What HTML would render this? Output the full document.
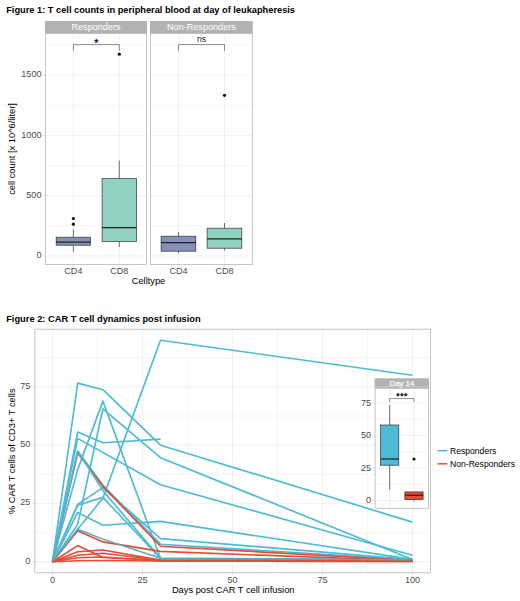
<!DOCTYPE html>
<html><head><meta charset="utf-8"><title>Figures</title>
<style>
html,body{margin:0;padding:0;background:#fff;}
body{width:520px;height:601px;overflow:hidden;font-family:"Liberation Sans",sans-serif;}
svg{display:block;font-family:"Liberation Sans",sans-serif;}
.t{font-weight:bold;font-size:9.26px;fill:#000;}
.ax{font-size:9.1px;fill:#4D4D4D;}
.at{font-size:9.3px;fill:#000;}
.st{font-size:9.1px;fill:#fff;}
.lg{font-size:8.6px;fill:#000;}
.gmaj{stroke:#E2E2E2;stroke-width:0.5;}
.gmin{stroke:#E6E6E6;stroke-width:0.42;}
.bd{fill:none;stroke:#B8B8B8;stroke-width:0.8;}
.tk{stroke:#BDBDBD;stroke-width:0.5;}
.bx{stroke:#333;stroke-width:0.7;}
.md{stroke:#222;stroke-width:1.25;}
</style></head><body>
<svg width="520" height="601" viewBox="0 0 520 601">
<rect width="520" height="601" fill="#fff"/>

<text class="t" x="6.2" y="13.2" textLength="288.8" lengthAdjust="spacingAndGlyphs">Figure 1: T cell counts in peripheral blood at day of leukapheresis</text>
<rect x="45.0" y="21" width="102.0" height="12.5" fill="#B3B3B3"/>
<text class="st" x="96.0" y="30.4" text-anchor="middle">Responders</text>
<line class="gmin" x1="45.5" x2="146.5" y1="225.8" y2="225.8"/>
<line class="gmin" x1="45.5" x2="146.5" y1="165.5" y2="165.5"/>
<line class="gmin" x1="45.5" x2="146.5" y1="105.3" y2="105.3"/>
<line class="gmin" x1="45.5" x2="146.5" y1="45.0" y2="45.0"/>
<line class="gmaj" x1="45.5" x2="146.5" y1="255.9" y2="255.9"/>
<line class="gmaj" x1="45.5" x2="146.5" y1="195.7" y2="195.7"/>
<line class="gmaj" x1="45.5" x2="146.5" y1="135.4" y2="135.4"/>
<line class="gmaj" x1="45.5" x2="146.5" y1="75.2" y2="75.2"/>
<line class="gmaj" x1="73.4" x2="73.4" y1="33.5" y2="264.6"/>
<line class="tk" x1="73.4" x2="73.4" y1="264.6" y2="267.1"/>
<line class="gmaj" x1="119.3" x2="119.3" y1="33.5" y2="264.6"/>
<line class="tk" x1="119.3" x2="119.3" y1="264.6" y2="267.1"/>
<text class="ax" x="73.4" y="274.0" text-anchor="middle">CD4</text>
<text class="ax" x="119.3" y="274.0" text-anchor="middle">CD8</text>
<line class="bx" x1="73.4" x2="73.4" y1="229.5" y2="237.2"/>
<line class="bx" x1="73.4" x2="73.4" y1="245.2" y2="251.8"/>
<rect class="bx" x="56.2" y="237.2" width="34.4" height="8.0" fill="#8491B4"/>
<line class="md" x1="56.2" x2="90.6" y1="242.0" y2="242.0"/>
<line class="bx" x1="119.3" x2="119.3" y1="160.5" y2="178.5"/>
<line class="bx" x1="119.3" x2="119.3" y1="241.5" y2="247.0"/>
<rect class="bx" x="102.1" y="178.5" width="34.4" height="63.0" fill="#91D1C2"/>
<line class="md" x1="102.1" x2="136.5" y1="227.5" y2="227.5"/>
<circle cx="73.4" cy="218.5" r="1.6" fill="#111"/>
<circle cx="73.4" cy="224.2" r="1.6" fill="#111"/>
<circle cx="119.3" cy="54.2" r="1.6" fill="#111"/>
<path d="M73.4 50.8V44.6H119.3V50.8" fill="none" stroke="#444" stroke-width="0.6"/>
<text x="96.3" y="47.3" text-anchor="middle" font-size="10.5" fill="#111" stroke="#111" stroke-width="0.3">*</text>
<rect class="bd" x="45.5" y="33.5" width="101.0" height="231.1"/>
<rect x="150.0" y="21" width="102.8" height="12.5" fill="#B3B3B3"/>
<text class="st" x="201.4" y="30.4" text-anchor="middle">Non-Responders</text>
<line class="gmin" x1="150.5" x2="252.3" y1="225.8" y2="225.8"/>
<line class="gmin" x1="150.5" x2="252.3" y1="165.5" y2="165.5"/>
<line class="gmin" x1="150.5" x2="252.3" y1="105.3" y2="105.3"/>
<line class="gmin" x1="150.5" x2="252.3" y1="45.0" y2="45.0"/>
<line class="gmaj" x1="150.5" x2="252.3" y1="255.9" y2="255.9"/>
<line class="gmaj" x1="150.5" x2="252.3" y1="195.7" y2="195.7"/>
<line class="gmaj" x1="150.5" x2="252.3" y1="135.4" y2="135.4"/>
<line class="gmaj" x1="150.5" x2="252.3" y1="75.2" y2="75.2"/>
<line class="gmaj" x1="178.5" x2="178.5" y1="33.5" y2="264.6"/>
<line class="tk" x1="178.5" x2="178.5" y1="264.6" y2="267.1"/>
<line class="gmaj" x1="224.5" x2="224.5" y1="33.5" y2="264.6"/>
<line class="tk" x1="224.5" x2="224.5" y1="264.6" y2="267.1"/>
<text class="ax" x="178.5" y="274.0" text-anchor="middle">CD4</text>
<text class="ax" x="224.5" y="274.0" text-anchor="middle">CD8</text>
<line class="bx" x1="178.5" x2="178.5" y1="232.0" y2="236.2"/>
<line class="bx" x1="178.5" x2="178.5" y1="251.2" y2="253.2"/>
<rect class="bx" x="161.1" y="236.2" width="34.7" height="15.0" fill="#8491B4"/>
<line class="md" x1="161.1" x2="195.9" y1="242.5" y2="242.5"/>
<line class="bx" x1="224.5" x2="224.5" y1="223.0" y2="228.2"/>
<line class="bx" x1="224.5" x2="224.5" y1="248.2" y2="250.5"/>
<rect class="bx" x="207.1" y="228.2" width="34.7" height="20.0" fill="#91D1C2"/>
<line class="md" x1="207.1" x2="241.9" y1="238.8" y2="238.8"/>
<circle cx="224.5" cy="95.3" r="1.6" fill="#111"/>
<path d="M178.5 50.8V44.6H224.5V50.8" fill="none" stroke="#444" stroke-width="0.6"/>
<text x="201.5" y="42" text-anchor="middle" font-size="8.6" fill="#111">ns</text>
<rect class="bd" x="150.5" y="33.5" width="101.8" height="231.1"/>
<text class="ax" x="41.5" y="258.1" text-anchor="end">0</text>
<line class="tk" x1="42.8" x2="45.5" y1="255.9" y2="255.9"/>
<text class="ax" x="41.5" y="197.8" text-anchor="end">500</text>
<line class="tk" x1="42.8" x2="45.5" y1="195.7" y2="195.7"/>
<text class="ax" x="41.5" y="137.6" text-anchor="end">1000</text>
<line class="tk" x1="42.8" x2="45.5" y1="135.4" y2="135.4"/>
<text class="ax" x="41.5" y="77.4" text-anchor="end">1500</text>
<line class="tk" x1="42.8" x2="45.5" y1="75.2" y2="75.2"/>
<text class="at" x="148.5" y="284" text-anchor="middle">Celltype</text>
<text class="at" transform="translate(14.6,149) rotate(-90)" text-anchor="middle">cell count [x 10^6/liter]</text>
<text class="t" x="6.2" y="322" textLength="194.5" lengthAdjust="spacingAndGlyphs">Figure 2: CAR T cell dynamics post infusion</text>
<line class="gmin" x1="34.8" x2="430.5" y1="532.6" y2="532.6"/>
<line class="gmin" x1="97.5" x2="97.5" y1="329.2" y2="572.8"/>
<line class="gmin" x1="34.8" x2="430.5" y1="474.3" y2="474.3"/>
<line class="gmin" x1="187.5" x2="187.5" y1="329.2" y2="572.8"/>
<line class="gmin" x1="34.8" x2="430.5" y1="416.0" y2="416.0"/>
<line class="gmin" x1="277.5" x2="277.5" y1="329.2" y2="572.8"/>
<line class="gmin" x1="34.8" x2="430.5" y1="357.7" y2="357.7"/>
<line class="gmin" x1="367.5" x2="367.5" y1="329.2" y2="572.8"/>
<line class="gmaj" x1="34.8" x2="430.5" y1="561.7" y2="561.7"/>
<text class="ax" x="30.3" y="563.7" text-anchor="end">0</text>
<line class="tk" x1="32.1" x2="34.8" y1="561.7" y2="561.7"/>
<line class="gmaj" x1="34.8" x2="430.5" y1="503.4" y2="503.4"/>
<text class="ax" x="30.3" y="505.4" text-anchor="end">25</text>
<line class="tk" x1="32.1" x2="34.8" y1="503.4" y2="503.4"/>
<line class="gmaj" x1="34.8" x2="430.5" y1="445.2" y2="445.2"/>
<text class="ax" x="30.3" y="447.2" text-anchor="end">50</text>
<line class="tk" x1="32.1" x2="34.8" y1="445.2" y2="445.2"/>
<line class="gmaj" x1="34.8" x2="430.5" y1="386.9" y2="386.9"/>
<text class="ax" x="30.3" y="388.9" text-anchor="end">75</text>
<line class="tk" x1="32.1" x2="34.8" y1="386.9" y2="386.9"/>
<line class="gmaj" x1="52.5" x2="52.5" y1="329.2" y2="572.8"/>
<line class="tk" x1="52.5" x2="52.5" y1="572.8" y2="575.3"/>
<text class="ax" x="52.5" y="582.7" text-anchor="middle">0</text>
<line class="gmaj" x1="142.5" x2="142.5" y1="329.2" y2="572.8"/>
<line class="tk" x1="142.5" x2="142.5" y1="572.8" y2="575.3"/>
<text class="ax" x="142.5" y="582.7" text-anchor="middle">25</text>
<line class="gmaj" x1="232.5" x2="232.5" y1="329.2" y2="572.8"/>
<line class="tk" x1="232.5" x2="232.5" y1="572.8" y2="575.3"/>
<text class="ax" x="232.5" y="582.7" text-anchor="middle">50</text>
<line class="gmaj" x1="322.5" x2="322.5" y1="329.2" y2="572.8"/>
<line class="tk" x1="322.5" x2="322.5" y1="572.8" y2="575.3"/>
<text class="ax" x="322.5" y="582.7" text-anchor="middle">75</text>
<line class="gmaj" x1="412.5" x2="412.5" y1="329.2" y2="572.8"/>
<line class="tk" x1="412.5" x2="412.5" y1="572.8" y2="575.3"/>
<text class="ax" x="412.5" y="582.7" text-anchor="middle">100</text>
<polyline points="52.5,561.7 77.7,383.1 102.9,389.7 160.5,445.2 412.5,522.1" fill="none" stroke="#4DBBD5" stroke-width="1.65" stroke-linejoin="round"/>
<polyline points="52.5,561.7 77.7,432.1 102.9,442.8 160.5,439.1" fill="none" stroke="#4DBBD5" stroke-width="1.65" stroke-linejoin="round"/>
<polyline points="52.5,561.7 77.7,438.4 160.5,484.8 412.5,555.2" fill="none" stroke="#4DBBD5" stroke-width="1.65" stroke-linejoin="round"/>
<polyline points="52.5,561.7 77.7,469.6 102.9,401.1 160.5,558.2" fill="none" stroke="#4DBBD5" stroke-width="1.65" stroke-linejoin="round"/>
<polyline points="52.5,561.7 77.7,524.4 102.9,408.8 160.5,457.7 412.5,559.4" fill="none" stroke="#4DBBD5" stroke-width="1.65" stroke-linejoin="round"/>
<polyline points="52.5,561.7 77.7,529.3 102.9,498.1 160.5,340.3 412.5,375.2" fill="none" stroke="#4DBBD5" stroke-width="1.65" stroke-linejoin="round"/>
<polyline points="52.5,561.7 77.7,505.3 102.9,497.4 160.5,558.4 412.5,559.8" fill="none" stroke="#4DBBD5" stroke-width="1.65" stroke-linejoin="round"/>
<polyline points="52.5,561.7 77.7,504.4 102.9,487.6 160.5,538.6 412.5,559.6" fill="none" stroke="#4DBBD5" stroke-width="1.65" stroke-linejoin="round"/>
<polyline points="52.5,561.7 77.7,512.5 102.9,525.3 160.5,521.4 412.5,559.4" fill="none" stroke="#4DBBD5" stroke-width="1.65" stroke-linejoin="round"/>
<polyline points="52.5,561.7 77.7,451.0 102.9,485.0 160.5,544.2 412.5,559.8" fill="none" stroke="#4DBBD5" stroke-width="1.65" stroke-linejoin="round"/>
<polyline points="52.5,561.7 77.7,453.1 102.9,486.4 160.5,546.3 412.5,560.5" fill="none" stroke="#E64B35" stroke-width="1.65" stroke-linejoin="round"/>
<polyline points="52.5,561.7 77.7,451.0 102.9,490.6 160.5,558.4" fill="none" stroke="#4DBBD5" stroke-width="1.65" stroke-linejoin="round"/>
<polyline points="52.5,561.7 77.7,530.7 102.9,541.9 160.5,551.4 412.5,560.8" fill="none" stroke="#E64B35" stroke-width="1.65" stroke-linejoin="round"/>
<polyline points="52.5,561.7 77.7,545.6 102.9,557.5 160.5,560.5 412.5,561.0" fill="none" stroke="#E64B35" stroke-width="1.65" stroke-linejoin="round"/>
<polyline points="52.5,561.7 77.7,551.7 102.9,550.0 160.5,560.1 412.5,561.0" fill="none" stroke="#E64B35" stroke-width="1.65" stroke-linejoin="round"/>
<polyline points="52.5,561.7 77.7,555.2 102.9,553.3 160.5,560.3 412.5,561.2" fill="none" stroke="#E64B35" stroke-width="1.65" stroke-linejoin="round"/>
<polyline points="52.5,561.7 77.7,557.7 102.9,557.0 160.5,560.8 412.5,561.5" fill="none" stroke="#E64B35" stroke-width="1.65" stroke-linejoin="round"/>
<polyline points="52.5,561.7 77.7,560.8 102.9,560.5 160.5,561.0 412.5,561.5" fill="none" stroke="#E64B35" stroke-width="1.65" stroke-linejoin="round"/>
<polyline points="52.5,561.7 77.7,529.3 102.9,539.1 160.5,558.2 412.5,559.8" fill="none" stroke="#58a8bb" stroke-width="1.45" stroke-linejoin="round"/>
<rect class="bd" x="34.8" y="329.2" width="395.7" height="243.6"/>
<text class="at" x="233.2" y="592.5" text-anchor="middle">Days post CAR T cell infusion</text>
<text class="at" transform="translate(14.6,451.3) rotate(-90)" text-anchor="middle">% CAR T cells of CD3+ T cells</text>
<rect x="375.1" y="378.3" width="53.5" height="130.0" fill="#fff"/>
<rect x="374.6" y="378.3" width="54.5" height="10" fill="#B3B3B3"/>
<text x="401.9" y="386.4" text-anchor="middle" font-size="7.8" fill="#fff" stroke="#fff" stroke-width="0.2">Day 14</text>
<line class="gmin" x1="375.1" x2="428.6" y1="484.4" y2="484.4"/>
<line class="gmin" x1="375.1" x2="428.6" y1="451.9" y2="451.9"/>
<line class="gmin" x1="375.1" x2="428.6" y1="419.4" y2="419.4"/>
<line class="gmin" x1="375.1" x2="428.6" y1="386.9" y2="386.9"/>
<line class="gmaj" x1="375.1" x2="428.6" y1="500.6" y2="500.6"/>
<text class="ax" x="371" y="503.0" text-anchor="end">0</text>
<line class="tk" x1="372.8" x2="375.1" y1="500.6" y2="500.6"/>
<line class="gmaj" x1="375.1" x2="428.6" y1="468.1" y2="468.1"/>
<text class="ax" x="371" y="470.5" text-anchor="end">25</text>
<line class="tk" x1="372.8" x2="375.1" y1="468.1" y2="468.1"/>
<line class="gmaj" x1="375.1" x2="428.6" y1="435.6" y2="435.6"/>
<text class="ax" x="371" y="438.0" text-anchor="end">50</text>
<line class="tk" x1="372.8" x2="375.1" y1="435.6" y2="435.6"/>
<line class="gmaj" x1="375.1" x2="428.6" y1="403.1" y2="403.1"/>
<text class="ax" x="371" y="405.5" text-anchor="end">75</text>
<line class="tk" x1="372.8" x2="375.1" y1="403.1" y2="403.1"/>
<line class="gmaj" x1="389.7" x2="389.7" y1="388.4" y2="508.3"/>
<line class="gmaj" x1="414.0" x2="414.0" y1="388.4" y2="508.3"/>
<line class="bx" x1="389.7" x2="389.7" y1="405.0" y2="425.0"/>
<line class="bx" x1="389.7" x2="389.7" y1="465.2" y2="489.8"/>
<rect class="bx" x="380.6" y="425.0" width="18.2" height="40.2" fill="#4DBBD5"/>
<line class="md" x1="380.6" x2="398.8" y1="459.0" y2="459.0"/>
<line class="bx" x1="414.0" x2="414.0" y1="491.9" y2="491.9"/>
<line class="bx" x1="414.0" x2="414.0" y1="499.6" y2="501.3"/>
<rect class="bx" x="404.9" y="491.9" width="18.2" height="7.7" fill="#E64B35"/>
<line class="md" x1="404.9" x2="423.1" y1="495.2" y2="495.2"/>
<circle cx="414.0" cy="459" r="1.6" fill="#111"/>
<path d="M389.7 402V398.6H414.0V402" fill="none" stroke="#444" stroke-width="0.6"/>
<text x="401.9" y="399.3" text-anchor="middle" font-size="9.6" letter-spacing="0.15" fill="#111" stroke="#111" stroke-width="0.3">***</text>
<rect class="bd" x="375.1" y="388.4" width="53.5" height="119.9"/>
<line x1="437.6" x2="447.4" y1="450.7" y2="450.7" stroke="#4DBBD5" stroke-width="1.5"/>
<line x1="437.6" x2="447.4" y1="463.8" y2="463.8" stroke="#E64B35" stroke-width="1.5"/>
<text class="lg" x="450" y="453.7">Responders</text>
<text class="lg" x="450" y="466.8">Non-Responders</text>
</svg></body></html>
